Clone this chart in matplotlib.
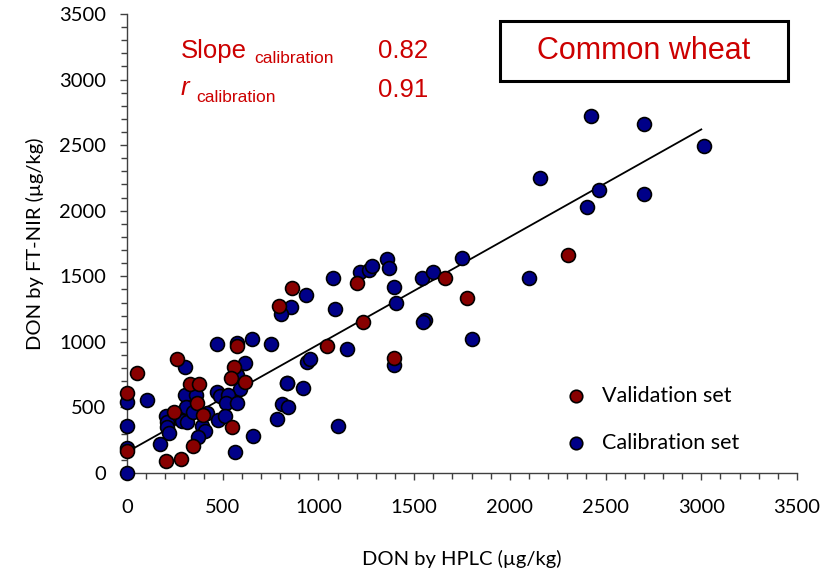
import matplotlib
matplotlib.use("Agg")
import matplotlib.pyplot as plt
from matplotlib.patches import Rectangle
from matplotlib.ticker import MultipleLocator

# DON (µg/kg): HPLC reference vs FT-NIR prediction
cal_hplc = [0, 0, 0, 0, 106, 172, 204, 211, 207, 221, 301, 301, 360, 308, 286,
            312, 346, 416, 390, 407, 373, 468, 573, 651, 751, 617, 573, 590,
            468, 486, 529, 517, 573, 477, 512, 660, 564, 782, 808, 843, 834,
            1078, 935, 855, 803, 1087, 1217, 1264, 1282, 1360, 1370, 1395,
            1540, 1600, 1749, 1404, 1557, 1545, 1148, 942, 956, 918, 838,
            1104, 1395, 2102, 1800, 2423, 2703, 3015, 2160, 2466, 2405, 2703]
cal_nir = [0, 193, 358, 544, 557, 219, 437, 391, 349, 307, 811, 595, 595, 501,
           399, 387, 468, 460, 358, 323, 272, 980, 989, 1020, 984, 842, 748,
           641, 620, 587, 595, 532, 532, 404, 437, 285, 158, 412, 526, 501,
           689, 1485, 1358, 1269, 1213, 1251, 1536, 1548, 1579, 1632, 1561,
           1421, 1485, 1536, 1638, 1294, 1167, 1150, 944, 849, 867, 646, 684,
           361, 824, 1485, 1020, 2726, 2662, 2494, 2248, 2159, 2027, 2128]

val_hplc = [0, 0, 51, 204, 280, 247, 263, 329, 378, 364, 395, 343, 573, 559,
            545, 617, 547, 864, 796, 1203, 1661, 1775, 1235, 1043, 1395, 2306]
val_nir = [170, 613, 765, 91, 104, 463, 867, 675, 675, 536, 442, 206, 969, 811,
           722, 693, 351, 1409, 1274, 1452, 1485, 1333, 1154, 969, 875, 1663]

# calibration fit
slope_cal = 0.82
r_cal = 0.91
intercept_cal = 160
fit_x = [0, 3000]

fig = plt.figure(figsize=(8.34, 5.75), dpi=100)
ax = fig.add_axes([127 / 834, 102 / 575, 670 / 834, 459 / 575])

tick_font = "Lato"
red_txt = "#cc0000"

fit_y = [slope_cal * x + intercept_cal for x in fit_x]
ax.plot(fit_x, fit_y, color="black", lw=1.3, zorder=2)

mk = dict(s=100, edgecolors="black", linewidths=1.2, clip_on=False, zorder=3)
ax.scatter(cal_hplc, cal_nir, color="#000088", label="Calibration set", **mk)
ax.scatter(val_hplc, val_nir, color="#880000", label="Validation set", **mk)

ax.set_xlim(0, 3500)
ax.set_ylim(0, 3500)
ax.xaxis.set_major_locator(MultipleLocator(500))
ax.yaxis.set_major_locator(MultipleLocator(500))
ax.xaxis.set_minor_locator(MultipleLocator(100))
ax.yaxis.set_minor_locator(MultipleLocator(100))

for side in ("top", "right"):
    ax.spines[side].set_visible(False)
for side in ("left", "bottom"):
    ax.spines[side].set_color("#404040")
    ax.spines[side].set_linewidth(1.0)

ax.tick_params(which="both", direction="out", color="#404040", width=1.0)
ax.tick_params(which="major", length=5, labelsize=14.5, pad=6)
ax.tick_params(which="minor", length=4)
ax.tick_params(axis="x", which="major", pad=14)
ax.tick_params(axis="y", which="major", pad=10)
for lab in ax.get_xticklabels() + ax.get_yticklabels():
    lab.set_fontfamily(tick_font)

ax.set_xlabel("DON by HPLC (µg/kg)", fontfamily=tick_font, fontsize=14.5,
              labelpad=24)
ax.set_ylabel("DON by FT-NIR (µg/kg)", fontfamily=tick_font, fontsize=14.5,
              labelpad=11)

# calibration statistics
sans = "Liberation Sans"
ax.text(282, 3165, "Slope", color=red_txt, fontsize=18.5, fontfamily=sans,
        va="baseline")
ax.text(663, 3127, "calibration", color=red_txt, fontsize=12.5,
        fontfamily=sans, va="baseline")
ax.text(1311, 3165, f"{slope_cal:.2f}", color=red_txt, fontsize=18.5,
        fontfamily=sans, va="baseline")
ax.text(282, 2883, "r", color=red_txt, fontsize=18.5, fontfamily=sans,
        style="italic", va="baseline")
ax.text(360, 2830, "calibration", color=red_txt, fontsize=12.5,
        fontfamily=sans, va="baseline")
ax.text(1311, 2868, f"{r_cal:.2f}", color=red_txt, fontsize=18.5,
        fontfamily=sans, va="baseline")

# title box
ax.add_patch(Rectangle((1949, 2990), 1504, 458, fill=False, edgecolor="black",
                       lw=2.2, clip_on=False, zorder=4))
ax.text(2701, 3219, "Common wheat", color=red_txt, fontsize=22,
        fontfamily=sans, ha="center", va="center")

handles, labels = ax.get_legend_handles_labels()
leg = ax.legend(handles[::-1], labels[::-1], loc="upper left",
                bbox_to_anchor=(0.609, 0.232), frameon=False,
                prop={"family": tick_font, "size": 15.5},
                labelspacing=1.25, handletextpad=0.2, markerscale=0.9)

fig.savefig("out.png", dpi=100)
